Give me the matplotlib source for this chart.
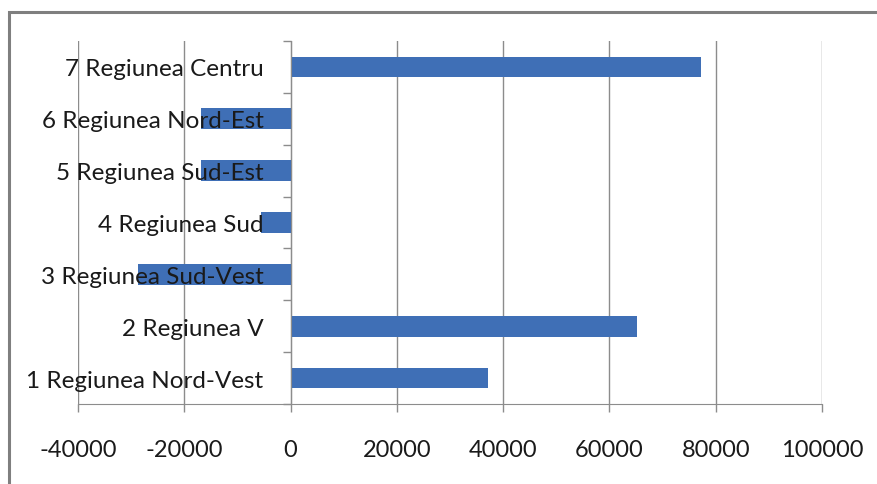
import matplotlib
matplotlib.use("Agg")
import matplotlib.pyplot as plt
import matplotlib.transforms as mtransforms
from matplotlib.patches import Rectangle

plt.rcParams['font.family'] = ['Lato', 'DejaVu Sans']

# balance per development region
regions = ['1 Regiunea Nord-Vest', '2 Regiunea V', '3 Regiunea Sud-Vest',
           '4 Regiunea Sud', '5 Regiunea Sud-Est', '6 Regiunea Nord-Est',
           '7 Regiunea Centru']
values = [37200, 65200, -28700, -5500, -16900, -16900, 77300]
x_ticks = [-40000, -20000, 0, 20000, 40000, 60000, 80000, 100000]

bar_color = '#3f6fb6'
grid_color = '#8c8c8c'
text_color = '#1a1a1a'

fig = plt.figure(figsize=(8.77, 4.85), dpi=100)

# outer chart frame (clipped at the right and bottom edges)
fig.patches.append(Rectangle((9 / 877, -0.1), 1.0, (485 - 13) / 485 + 0.1,
                             transform=fig.transFigure, fill=False,
                             edgecolor='#7f7f7f', linewidth=2.2))

ax = fig.add_axes([78 / 877, 1 - 405 / 485, (822 - 78) / 877, (405 - 42) / 485])

pos = list(range(len(regions)))
ax.barh(pos, values, height=0.4, color=bar_color, zorder=2)

ax.set_xlim(x_ticks[0], x_ticks[-1])
ax.set_ylim(-0.5, len(regions) - 0.5)
ax.set_xticks(x_ticks)
ax.set_xticklabels([str(t) for t in x_ticks], fontsize=17, color=text_color)
ax.tick_params(axis='x', length=6, width=1, color=grid_color, pad=19)

ax.set_axisbelow(True)
ax.grid(axis='x', color=grid_color, linewidth=1)

# category axis sits at zero, ticks between categories
ax.spines['left'].set_position(('data', 0))
ax.spines['left'].set_color(grid_color)
ax.spines['bottom'].set_color(grid_color)
ax.spines['top'].set_visible(False)
ax.spines['right'].set_visible(False)
ax.set_yticks([p - 0.5 for p in pos] + [len(regions) - 0.5])
ax.set_yticklabels([])
ax.tick_params(axis='y', length=6, width=1, color=grid_color)

# category names drawn above the bars
offset = mtransforms.ScaledTranslation(-27 / 100, -2 / 100, fig.dpi_scale_trans)
for p, name in zip(pos, regions):
    ax.text(0, p, name, transform=ax.transData + offset, ha='right',
            va='center', fontsize=17.5, color=text_color, zorder=5)

fig.savefig('out.png', dpi=100)
